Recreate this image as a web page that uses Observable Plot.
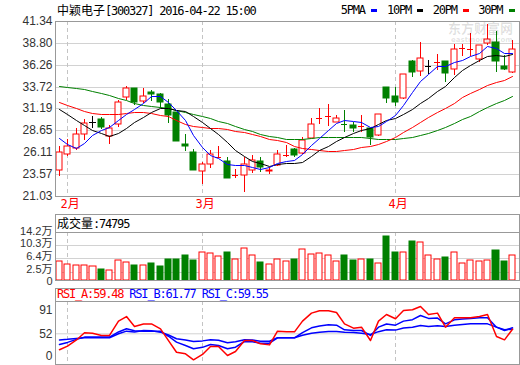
<!DOCTYPE html>
<html><head><meta charset="utf-8">
<script src="https://cdn.jsdelivr.net/npm/d3@7"></script>
<script src="https://cdn.jsdelivr.net/npm/@observablehq/plot@0.6"></script>
<style>
html,body{margin:0;padding:0;background:#fff;}
#root{position:relative;width:520px;height:365px;overflow:hidden;}
.abs{position:absolute;white-space:nowrap;}
.t{font-family:"DejaVu Sans Mono",monospace;font-size:12px;letter-spacing:-1.2px;line-height:14px;color:#000;}
.cjk{font-family:"Noto Sans CJK SC",sans-serif;letter-spacing:0;font-size:12px;}
.box{position:absolute;border:1px solid #999;border-bottom:none;box-sizing:border-box;}
.sw{position:absolute;height:3px;width:6px;}
</style></head><body><div id="root"></div>
<script>
// ---------- data ----------
const dates = ["2016-01-29",
"2016-02-01","2016-02-02","2016-02-03","2016-02-04","2016-02-05","2016-02-15","2016-02-16","2016-02-17","2016-02-18","2016-02-19","2016-02-22","2016-02-23","2016-02-24","2016-02-25","2016-02-26","2016-02-29",
"2016-03-01","2016-03-02","2016-03-03","2016-03-04","2016-03-07","2016-03-08","2016-03-09","2016-03-10","2016-03-11","2016-03-14","2016-03-15","2016-03-16","2016-03-17","2016-03-18","2016-03-21","2016-03-22","2016-03-23","2016-03-24","2016-03-25","2016-03-28","2016-03-29","2016-03-30","2016-03-31",
"2016-04-01","2016-04-05","2016-04-06","2016-04-07","2016-04-08","2016-04-11","2016-04-12","2016-04-13","2016-04-14","2016-04-15","2016-04-18","2016-04-19","2016-04-20","2016-04-21","2016-04-22"];
const open  = [24.05,25.92,26.58,28.18,29.60,29.92,27.95,29.44,32.55,33.54,32.05,33.07,32.83,31.70,30.75,27.10,26.10,23.97,24.75,25.55,25.10,23.42,23.49,24.10,25.14,23.95,24.65,25.72,26.50,26.00,27.80,30.07,30.22,29.62,29.46,29.24,29.10,28.90,28.07,33.65,32.67,32.44,36.74,35.56,36.07,36.55,36.65,35.80,38.15,38.05,36.97,38.81,38.85,36.07,35.41];
const high  = [26.89,27.68,28.92,30.00,30.30,30.20,29.24,32.15,33.75,33.60,33.55,33.30,33.00,32.25,30.80,28.25,26.50,25.00,26.40,26.80,25.60,24.20,25.50,25.80,25.50,24.40,26.40,27.00,26.60,27.90,30.10,31.30,31.70,30.40,31.05,29.65,30.40,28.95,30.50,33.70,33.70,35.20,36.80,38.90,36.85,37.50,36.70,38.70,38.65,40.00,38.60,40.95,40.20,37.40,39.10];
const low   = [23.38,25.64,26.39,27.50,28.95,28.85,27.09,29.05,32.20,31.55,31.80,32.10,31.30,29.50,27.40,26.30,24.10,22.45,24.30,25.40,23.10,23.10,21.55,23.70,23.80,23.60,24.50,25.60,25.60,25.92,27.80,29.40,29.10,29.60,28.40,28.45,28.45,26.90,28.05,31.85,31.45,32.30,34.80,34.90,35.20,35.70,34.25,35.10,37.25,37.30,36.60,38.60,35.40,35.65,35.30];
const close = [26.11,26.89,28.26,29.55,29.60,29.04,28.92,31.90,33.54,31.97,32.65,32.83,31.97,30.41,27.40,26.85,24.10,24.75,25.92,25.64,23.10,23.50,24.80,25.20,24.43,24.10,25.92,25.82,25.84,27.56,29.44,30.17,30.30,30.14,29.38,28.92,29.16,27.85,30.49,32.44,31.97,35.18,35.41,37.05,36.07,36.62,35.29,38.10,38.22,38.11,38.53,39.20,36.70,35.76,38.14];
// volume, in 万 (10k) shares
const volume = [5.6,4.7,4.4,4.4,4.2,3.3,2.9,5.9,5.3,4.5,4.5,5.1,4.2,6.3,6.3,7.5,6.0,8.3,8.0,7.1,8.4,6.2,9.6,7.4,5.4,4.7,6.2,5.6,6.3,9.2,7.7,8.0,7.4,5.6,7.5,6.0,6.2,6.3,5.0,12.9,8.4,8.4,11.4,11.3,7.4,6.3,6.9,8.3,5.0,5.9,5.6,5.9,9.0,5.7,7.48];
// moving averages as drawn
const ma5  = [27.80,27.01,26.62,27.19,28.08,28.67,29.07,29.80,30.60,31.07,31.80,32.58,32.59,31.97,31.05,29.89,28.15,26.70,25.80,25.45,24.70,24.58,24.59,24.45,24.21,24.41,24.89,25.09,25.22,25.85,26.92,27.77,28.66,29.52,29.89,29.78,29.58,29.09,29.16,29.77,30.38,31.59,33.10,34.41,35.14,36.07,36.09,36.63,36.86,37.27,37.65,38.43,38.15,37.66,37.67];
const ma10 = [31.17,30.53,29.82,29.24,28.71,28.30,27.95,28.30,28.94,29.58,30.23,30.83,31.20,31.28,31.06,30.84,30.36,29.65,28.89,28.25,27.30,26.36,25.65,25.13,24.83,24.55,24.74,24.84,24.84,25.03,25.66,26.33,26.88,27.37,27.87,28.35,28.67,28.88,29.34,29.83,30.08,30.58,31.09,31.79,32.45,33.22,33.84,34.86,35.64,36.20,36.86,37.26,37.39,37.26,37.47];
const ma20 = [31.93,31.58,31.23,30.94,30.64,30.49,30.49,30.53,30.64,30.76,30.76,30.64,30.47,30.29,29.82,29.41,29.15,29.02,28.96,28.92,28.76,28.60,28.42,28.20,27.95,27.70,27.55,27.25,26.86,26.64,26.48,26.35,26.26,26.25,26.35,26.45,26.70,26.86,27.09,27.43,27.87,28.46,28.99,29.58,30.16,30.79,31.26,31.87,32.49,33.02,33.47,33.92,34.24,34.52,34.96];
const ma30 = [33.75,33.69,33.57,33.40,33.22,32.99,32.75,32.46,32.17,31.87,31.64,31.46,31.35,31.19,30.99,30.76,30.53,30.29,30.06,29.76,29.47,29.12,28.83,28.53,28.24,28.01,27.83,27.68,27.63,27.62,27.73,27.84,27.91,27.93,27.92,27.92,27.92,27.79,27.69,27.70,27.68,27.76,27.87,28.09,28.38,28.71,29.08,29.53,29.94,30.35,30.87,31.39,31.79,32.14,32.60];
// RSI lines
const rsiA = [26,32,42,53.6,53,49.3,49.3,72.6,80,64,68,68,60,41,22,19.5,9.7,18.4,31.4,31.4,16.8,23.3,41,41,35.7,34,56.3,55.2,55.2,72.6,85.6,89.4,89.4,86.7,68.2,61.2,62.8,41.1,72.6,83.4,76.4,89.9,91,96.4,83.4,85.6,62.8,78,78,78,80.2,83.4,47.6,42.2,59.48];
const rsiB = [34.6,38,43,46.6,46.6,46.6,46.6,55,60.1,57,56.3,56.3,56.3,48,38.4,33,27.6,30,34.6,33,27.6,30.3,39.5,39,36.8,36.8,45.5,45.5,45.5,54,61.7,64.5,66.6,66,58.5,57.4,57.4,49.3,62.8,68,66,72.6,75,81.8,77,77.5,68.2,74.7,76,77,78,78,62.8,57.4,61.77];
const rsiC = [42,43,44.5,45.5,45.5,45.5,45.5,52,56.3,55,57.4,57,54.7,50,43.9,42,39.5,40.5,42.2,41.5,37.4,39,42.2,42,40,40,45.5,45.5,45.5,49.5,53,54.5,55.8,55.8,54.7,54,53,50.9,55.5,58.5,58,61.5,62.8,65.5,64,65,63.9,66,67,68.2,68.2,68.2,62.8,58.5,59.55];
// axis ticks / labels
const priceTicks = [41.34,38.80,36.26,33.72,31.19,28.65,26.11,23.57,21.03];
const volTicks = [14.2,10.3,6.4,2.5,0];
const rsiTicks = [91,52,0];
const monthLabels = ["2月","3月","4月"];
const title = "中颖电子";
const code = "[300327] 2016-04-22 15:00";
const maNames = ["5PMA","10PM","20PM","30PM"];
const lastVolume = 74795;

// ---------- build ----------
const RED="#ff0000", GREEN="#008000", BLUE="#0000ff", BLACK="#000000";
const maColors=[BLUE,BLACK,RED,GREEN];
const root=document.getElementById("root");
const candles = dates.map((d,i)=>({i,date:d,open:open[i],high:high[i],low:low[i],close:close[i],vol:volume[i]}));
const col = d => d.close>d.open?RED:d.close<d.open?GREEN:BLACK;
const monthStarts = candles.filter((d,i)=>i>0 && d.date.slice(5,7)!==candles[i-1].date.slice(5,7)).map((d,k)=>({i:d.i,label:monthLabels[k]}));
const X = {type:"linear",domain:[-0.5,dates.length-0.5],range:[54.7,516.5],round:true,axis:null,label:null};
const HW=0.36;
const common = {width:520,marginLeft:55,marginRight:1,color:{type:"identity"},
  style:{position:"absolute",left:"0px",top:"0px",background:"transparent",overflow:"visible"}};
const axisFont = {fontSize:12,fontFamily:"'Liberation Sans','Noto Sans CJK SC',sans-serif",fill:"#333",tickSize:0,tickPadding:3,label:null};
const series=(arr)=>arr.map((v,i)=>({i,v}));

// price panel
const bodies = candles.filter(d=>Math.abs(d.close-d.open)>=0.12);
const flats = candles.filter(d=>Math.abs(d.close-d.open)<0.12);
const price = Plot.plot({...common,height:213,marginTop:21,marginBottom:17,
  x:X,
  y:{domain:[21.03,41.34],range:[196,21],round:true,label:null},
  marks:[
    Plot.ruleY(priceTicks.slice(1,-1),{stroke:"#d2d2d2"}),
    Plot.ruleX(monthStarts,{x:"i",stroke:"#c4c4c4",strokeDasharray:"4,3"}),
    Plot.ruleX(candles,{x:"i",y1:"low",y2:"high",stroke:col}),
    Plot.rect(bodies,{x1:d=>d.i-HW,x2:d=>d.i+HW,y1:"open",y2:"close",fill:d=>d.close>d.open?"#fff":GREEN,stroke:col}),
    Plot.ruleY(flats,{x1:d=>d.i-HW,x2:d=>d.i+HW,y:d=>(d.open+d.close)/2,stroke:col}),
    ...[ma30,ma20,ma10,ma5].map((m,k)=>Plot.line(series(m),{x:"i",y:"v",stroke:maColors[3-k],strokeWidth:1})),
    Plot.frame({stroke:"#999"}),
    Plot.axisY(priceTicks,{...axisFont,tickFormat:d=>d.toFixed(2)}),
    Plot.text(monthStarts,{x:"i",text:"label",frameAnchor:"bottom",dy:11,dx:-7,textAnchor:"start",fill:RED,fontSize:12,fontFamily:"'DejaVu Sans Mono','Noto Sans CJK SC',monospace"})
  ]});
root.appendChild(price);

// volume panel (label nudges keep the tightly packed labels apart)
const volNudge = [-1,-1.7,-2.4,-3,1];
const vol = Plot.plot({...common,height:283,marginTop:232,marginBottom:3,
  x:X,
  y:{domain:[0,14.2],range:[280,232],round:true,label:null},
  marks:[
    Plot.ruleY(volTicks.slice(1,-1),{stroke:"#d2d2d2"}),
    Plot.ruleX(monthStarts,{x:"i",stroke:"#c4c4c4",strokeDasharray:"4,3"}),
    Plot.rect(candles,{x1:d=>d.i-HW,x2:d=>d.i+HW,y1:0,y2:"vol",fill:d=>d.close>=d.open?"#fff":GREEN,stroke:d=>d.close>=d.open?RED:GREEN}),
    Plot.frame({stroke:"#999"}),
    ...volTicks.map((t,k)=>Plot.axisY([t],{...axisFont,fontSize:11,dy:volNudge[k],tickFormat:d=>d===0?"0":d+"万"}))
  ]});
root.appendChild(vol);

// RSI panel
const rsi = Plot.plot({...common,height:365,marginTop:301,marginBottom:1,
  x:X,
  y:{domain:[0,91],range:[365.3,309.3],label:null},
  marks:[
    Plot.ruleY([52],{stroke:"#d2d2d2"}),
    Plot.ruleX(monthStarts,{x:"i",stroke:"#c4c4c4",strokeDasharray:"4,3"}),
    Plot.line(series(rsiC),{x:"i",y:"v",stroke:BLUE}),
    Plot.line(series(rsiB),{x:"i",y:"v",stroke:BLUE}),
    Plot.line(series(rsiA),{x:"i",y:"v",stroke:RED}),
    Plot.frame({stroke:"#999"}),
    Plot.axisY(rsiTicks.filter(d=>d>0),{...axisFont}),
    Plot.text(rsiTicks.filter(d=>d===0),{y:d=>d,text:d=>String(d),frameAnchor:"left",dx:-3,dy:-10,textAnchor:"end",fontSize:12,fontFamily:axisFont.fontFamily,fill:"#333"})
  ]});
root.appendChild(rsi);

// ---------- html texts ----------
function div(cls,style,html){const e=document.createElement("div");e.className=cls;e.setAttribute("style",style);e.innerHTML=html;root.appendChild(e);return e;}
div("abs t","left:57px;top:3px;",`<span class="cjk">${title}</span>${code}`);
const legX=[340.7,387,432.7,478.3], swX=[371,417,463,509];
maNames.forEach((n,k)=>{div("abs t",`left:${legX[k]}px;top:3px;`,n);div("sw",`left:${swX[k]}px;top:9px;background:${maColors[k]};`,"");});
// watermark
div("abs","left:448px;top:21px;font-family:'Noto Sans CJK SC';font-weight:700;font-size:13px;line-height:14px;color:rgba(0,0,0,0.13);","东方财富网");
div("abs","left:451px;top:36px;font-family:'DejaVu Sans';font-weight:700;font-size:7px;line-height:8px;color:rgba(0,0,0,0.12);","eastmoney.com");
// header boxes
div("box","left:55px;top:214px;width:465px;height:19px;","");
div("abs t","left:57px;top:216px;",`<span class="cjk">成交量</span>:${lastVolume}`);
div("box","left:55px;top:288px;width:465px;height:14px;","");
div("abs t","left:57px;top:287px;",`<span style="color:${RED}">RSI_A:${rsiA[rsiA.length-1].toFixed(2)}</span> <span style="color:${BLUE}">RSI_B:${rsiB[rsiB.length-1].toFixed(2)}</span> <span style="color:${BLUE}">RSI_C:${rsiC[rsiC.length-1].toFixed(2)}</span>`);
</script></body></html>
